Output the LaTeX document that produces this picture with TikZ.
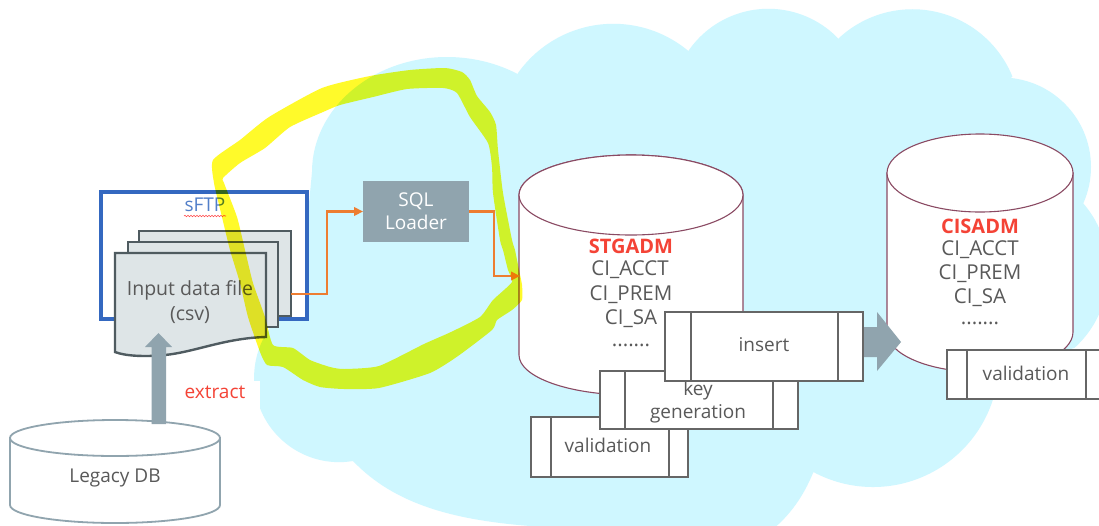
\documentclass[tikz,border=0pt]{standalone}
\usepackage{fontspec}
\setmainfont{Open Sans}
\usetikzlibrary{arrows.meta,decorations.pathmorphing}
\definecolor{cloudc}{HTML}{CFF7FF}
\definecolor{slatec}{HTML}{90A4AE}
\definecolor{txtc}{HTML}{595959}
\definecolor{redc}{HTML}{F44336}
\definecolor{cylc}{HTML}{8A4A63}
\definecolor{boxc}{HTML}{666666}
\definecolor{docf}{HTML}{DEE5E7}
\definecolor{docl}{HTML}{4F5B60}
\definecolor{sftpc}{HTML}{3468C0}
\definecolor{orangec}{HTML}{ED7D31}
\definecolor{hlc}{HTML}{FFFA2A}
\tikzset{
  lbl/.style={text=txtc,font=\fontsize{19}{23}\selectfont,inner sep=0pt,align=center},
  tbl/.style={text=txtc,font=\fontsize{20.5}{24}\selectfont,inner sep=0pt},
  redlbl/.style={text=redc,font=\fontsize{19}{23}\selectfont,inner sep=0pt},
  procbox/.style={draw=boxc,line width=2.4pt,fill=white,inner sep=0pt,outer sep=0pt,rectangle},
  procline/.style={draw=boxc,line width=2.4pt},
  docpage/.style={draw=docl,line width=2.4pt,fill=docf,inner sep=0pt,outer sep=0pt,rectangle},
  flow/.style={draw=orangec,line width=2.6pt,-{Triangle[length=9pt,width=8.5pt]}},
  cyl/.style={draw=cylc,line width=1.1pt,fill=white},
  bigarrow/.style={fill=slatec,draw=none}
}
\begin{document}
\begin{tikzpicture}[x=1pt,y=-1pt]
\useasboundingbox (0,0) rectangle (1099,525);
\clip (0,0) rectangle (1099,525);
\fill[white] (0,0) rectangle (1099,525);
% cloud, one arc per bump
\fill[cloudc] (300,300) -- (312,172)
 arc[start angle=180,end angle=301.7,x radius=135,y radius=115]
 -- (518,73) arc[start angle=215.4,end angle=310,radius=117]
 -- (689,50) arc[start angle=215.1,end angle=316.4,radius=97]
 -- (839,38) arc[start angle=227.2,end angle=337.8,radius=108]
 -- (1011,78) arc[start angle=276.1,end angle=383.8,radius=89.5]
 -- (1083,203) arc[start angle=319.1,end angle=407.5,radius=104]
 -- (998.5,372) arc[start angle=5,end angle=118.2,radius=126]
 -- (813,473) .. controls (803,497) and (790,515) .. (772,530)
 -- (772,540) -- (530,540) -- (530,526)
 .. controls (455,520) and (395,505) .. (353,461)
 arc[start angle=80.6,end angle=235,radius=85]
 -- cycle;
\fill[white] (170,381) rectangle (260,413);
% cylinders
\path[cyl] (519,195) arc[start angle=180,end angle=360,x radius=112,y radius=40] -- (743,355) arc[start angle=0,end angle=180,x radius=112,y radius=40] -- cycle;
\path[cyl] (631,195) ellipse[x radius=112,y radius=40];
\path[cyl] (887,173) -- (887,332) arc[start angle=180,end angle=0,x radius=93,y radius=40] -- (1073,173) -- cycle;
\path[cyl] (980,173) ellipse[x radius=93,y radius=39];
% legacy db
\path[draw=slatec,line width=1.8pt,fill=white] (10,438) -- (10,505) arc[start angle=180,end angle=0,x radius=105,y radius=18] -- (220,438) -- cycle;
\path[draw=slatec,line width=1.8pt,fill=white] (115,438) ellipse[x radius=105,y radius=18];
\node[lbl] (legacy) at (115,478) {Legacy DB};
% sftp
\node[draw=sftpc,line width=3.6pt,fill=white,inner sep=0pt,outer sep=0pt,minimum width=206pt,minimum height=127pt] (sftp) at (204,255.5) {};
\node[text=sftpc!85!white,font=\fontsize{19}{22}\selectfont,inner sep=0pt] (sftplbl) at (205,205) {sFTP};
\draw[red!70!white,line width=.6pt,decorate,decoration={snake,amplitude=.7pt,segment length=3pt}] (184,216) -- (226,216);
% docs
\node[docpage,minimum width=152pt,minimum height=85pt] (back) at (215,273.5) {};
\node[docpage,minimum width=150pt,minimum height=85pt] (mid) at (203,284.5) {};
\path[draw=docl,line width=2.4pt,fill=docf] (115,253) -- (266,253) -- (266,337) .. controls (225,338) and (195,352) .. (165,355) .. controls (145,357) and (125,356) .. (115,352) -- cycle;
\node[lbl,font=\fontsize{19.5}{25}\selectfont] (doclbl) at (190,302) {Input data file\\(csv)};
% arrows
\path[bigarrow] (151.5,424) -- (151.5,347) -- (145,347) -- (158.5,333) -- (172,347) -- (166,347) -- (166,424) -- cycle;
\node[redlbl] (extract) at (215,392) {extract};
\node[fill=slatec,text=white,font=\fontsize{19}{23}\selectfont,inner sep=0pt,outer sep=0pt,minimum width=106pt,minimum height=61pt,align=center] (sql) at (416,211.5) {SQL\\Loader};
\coordinate (cylin) at (520,276);
\coordinate (docout) at (291,294);
\draw[flow] (docout) -- (327,294) |- (sql.west);
\draw[flow] (sql.east) -- (494,211.5) |- (cylin);
% table names
\node[redlbl,font=\fontsize{20}{24}\selectfont\bfseries] (stg) at (631,246) {STGADM};
\node[tbl] (s1) at (630,270) {CI\_ACCT};
\node[tbl] (s2) at (631,295) {CI\_PREM};
\node[tbl] (s3) at (631,319) {CI\_SA};
\node[tbl] (s4) at (631,345) {.......};
\node[redlbl,font=\fontsize{20}{24}\selectfont\bfseries] (cis) at (980,226) {CISADM};
\node[tbl] (c1) at (980,250) {CI\_ACCT};
\node[tbl] (c2) at (980,274) {CI\_PREM};
\node[tbl] (c3) at (980,298) {CI\_SA};
\node[tbl] (c4) at (980,323) {.......};
% highlighter: outer and inner edge of the drawn loop
\begin{scope}[blend mode=multiply]
\fill[hlc,even odd rule]
 plot[smooth cycle,tension=.35] coordinates {(213,160) (240,140) (269,117) (322,88) (370,76) (410,70) (445,68) (462,72) (470,80) (477,96) (490,112) (496,125) (498,150) (503,193) (512,240) (515,250) (519,270) (522,285) (522,300) (512,310) (497,320) (492,330) (458,356) (430,373) (379,388) (344,389) (320,387) (303,380) (283,367) (267,365) (260,352) (248,317) (240,283) (230,250) (222,217) (214,183)}
 plot[smooth cycle,tension=.35] coordinates {(223,178) (240,163) (265,148) (290,127) (323,112) (340,105) (373,97) (407,89) (443,88) (457,93) (470,117) (488,143) (492,167) (493,193) (500,240) (503,250) (508,270) (512,282) (493,300) (480,317) (451,332) (424,344) (379,366) (344,369) (330,367) (310,360) (293,348) (273,345) (265,317) (253,283) (245,250) (237,217) (224,183)};
\end{scope}
% big arrow to cisadm
\path[bigarrow] (850,327) -- (877,327) -- (877,312) -- (901,342) -- (877,371) -- (877,357) -- (850,357) -- cycle;
% process boxes
\node[procbox,minimum width=157pt,minimum height=60pt] (val1) at (609.5,447) {};
\draw[procline] ([xshift=20pt]val1.north west) -- ([xshift=20pt]val1.south west);
\draw[procline] ([xshift=-19pt]val1.north east) -- ([xshift=-19pt]val1.south east);
\node[lbl] (val1t) at (608,445) {validation};
\node[procbox,minimum width=198pt,minimum height=58pt] (key) at (699,400) {};
\draw[procline] ([xshift=25pt]key.north west) -- ([xshift=25pt]key.south west);
\draw[procline] ([xshift=-25pt]key.north east) -- ([xshift=-25pt]key.south east);
\node[lbl] (keyt) at (698,402) {key\\generation};
\node[procbox,minimum width=198pt,minimum height=69pt] (ins) at (764,346.5) {};
\draw[procline] ([xshift=26pt]ins.north west) -- ([xshift=26pt]ins.south west);
\draw[procline] ([xshift=-25pt]ins.north east) -- ([xshift=-25pt]ins.south east);
\node[lbl] (inst) at (764,345) {insert};
\node[procbox,minimum width=159pt,minimum height=49pt] (val2) at (1026.5,374.5) {};
\draw[procline] ([xshift=20pt]val2.north west) -- ([xshift=20pt]val2.south west);
\draw[procline] ([xshift=-20pt]val2.north east) -- ([xshift=-20pt]val2.south east);
\node[lbl] (val2t) at (1026,373) {validation};
\end{tikzpicture}
\end{document}
